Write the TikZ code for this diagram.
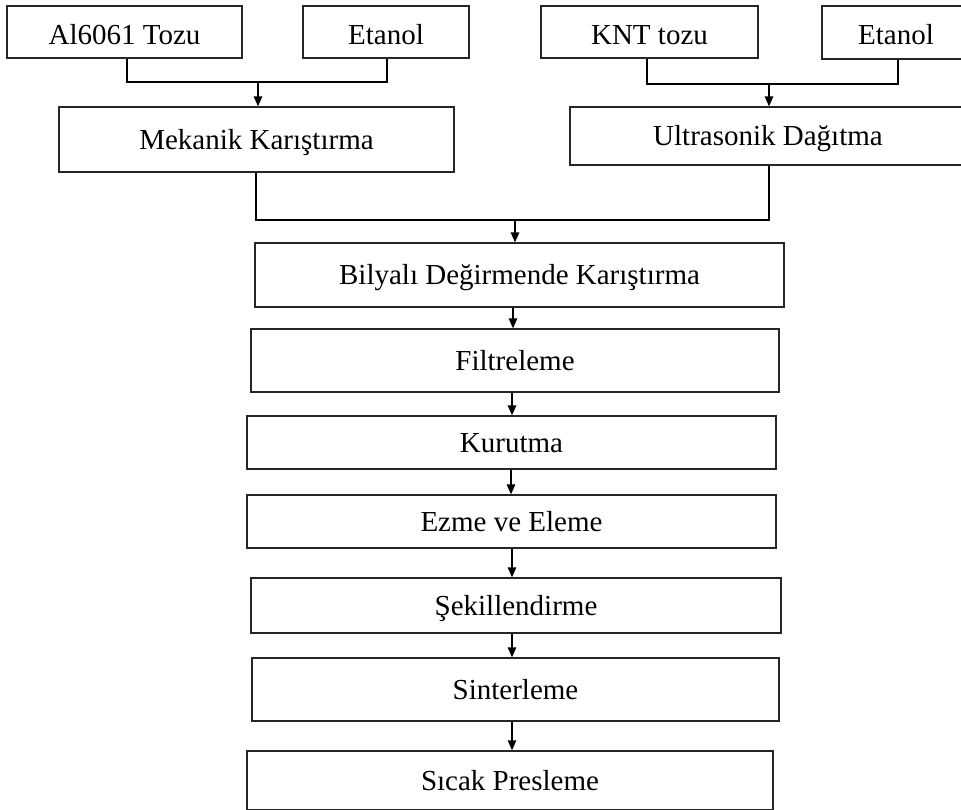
\documentclass[tikz,border=0pt]{standalone}
\usepackage{fontspec}
\setmainfont{Liberation Serif}
\usetikzlibrary{arrows.meta}
\begin{document}
\begin{tikzpicture}[x=1pt,y=-1pt,
  box/.style={draw=black!85, line width=1.3pt, inner sep=0pt, text height=24pt, text depth=4pt, font=\fontsize{29}{35}\selectfont},
  topbox/.style={box, text height=28pt, text depth=3pt},
  conn/.style={line width=1.4pt, black},
  arr/.style={conn, -{Triangle[length=10pt,width=8.5pt]}}]
\useasboundingbox (0,0) rectangle (961,810);
\clip (0,0) rectangle (961,810);
% top row
\node[topbox, minimum width=235pt, minimum height=52pt] (al)  at (124.5,32) {Al6061 Tozu};
\node[topbox, minimum width=166pt, minimum height=52pt] (et1) at (386,32) {Etanol};
\node[topbox, minimum width=217pt, minimum height=52pt] (knt) at (649.5,32) {KNT tozu};
\node[topbox, minimum width=148pt, minimum height=53pt] (et2) at (896,32.5) {Etanol};
% second row
\node[box, minimum width=395pt, minimum height=65pt] (mek) at (256.5,139.5) {Mekanik Karıştırma};
\node[box, minimum width=396pt, minimum height=58pt] (ult) at (768,136) {Ultrasonik Dağıtma};
% main column
\node[box, minimum width=529pt, minimum height=64pt] (bil) at (519.5,275) {Bilyalı Değirmende Karıştırma};
\node[box, minimum width=528pt, minimum height=63pt] (fil) at (515,360.5) {Filtreleme};
\node[box, minimum width=529pt, minimum height=53pt] (kur) at (511.5,442.5) {Kurutma};
\node[box, minimum width=529pt, minimum height=53pt] (ezm) at (511.5,521.5) {Ezme ve Eleme};
\node[box, minimum width=530pt, minimum height=55pt] (sek) at (516,605.5) {Şekillendirme};
\node[box, minimum width=527pt, minimum height=63pt] (sin) at (515.5,689.5) {Sinterleme};
\node[box, minimum width=526pt, minimum height=59pt] (sic) at (510,780.5) {Sıcak Presleme};
% junction coordinates
\coordinate (la) at (127,0);
\coordinate (le) at (387,0);
\coordinate (lm) at (258,0);
\coordinate (ka) at (647,0);
\coordinate (ke) at (898,0);
\coordinate (km) at (769,0);
\coordinate (mm) at (256,0);
\coordinate (um) at (769,0);
\coordinate (bm) at (515,0);
\coordinate (c1) at (513,0);
\coordinate (c2) at (512,0);
\coordinate (c3) at (511,0);
\coordinate (c4) at (512,0);
\coordinate (hy1) at (0,82);
\coordinate (hy2) at (0,84);
\coordinate (hy3) at (0,220);
% left merge
\draw[conn] (al.south -| la) -- (la |- hy1) -- (le |- hy1) -- (et1.south -| le);
\draw[arr] (lm |- hy1) -- (mek.north -| lm);
% right merge
\draw[conn] (knt.south -| ka) -- (ka |- hy2) -- (ke |- hy2) -- (et2.south -| ke);
\draw[arr] (km |- hy2) -- (ult.north -| km);
% central merge
\draw[conn] (mek.south -| mm) -- (mm |- hy3) -- (um |- hy3) -- (ult.south -| um);
\draw[arr] (bm |- hy3) -- (bil.north -| bm);
% main flow
\draw[arr] (bil.south -| c1) -- (fil.north -| c1);
\draw[arr] (fil.south -| c2) -- (kur.north -| c2);
\draw[arr] (kur.south -| c3) -- (ezm.north -| c3);
\draw[arr] (ezm.south -| c4) -- (sek.north -| c4);
\draw[arr] (sek.south -| c4) -- (sin.north -| c4);
\draw[arr] (sin.south -| c4) -- (sic.north -| c4);
\end{tikzpicture}
\end{document}
